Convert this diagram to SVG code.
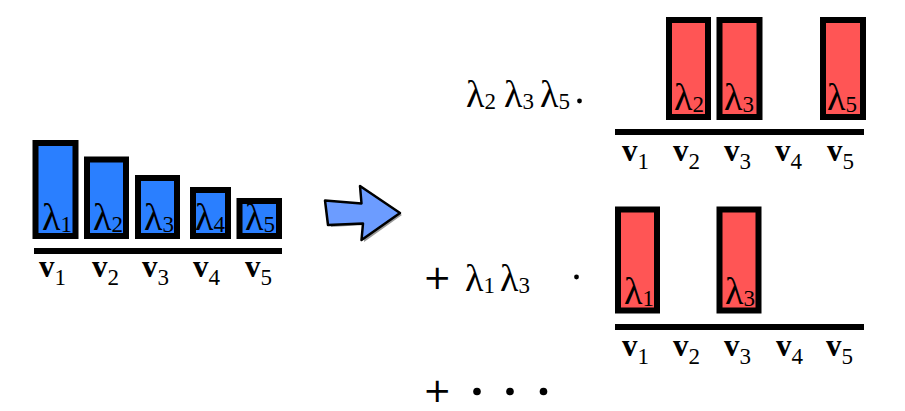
<svg xmlns="http://www.w3.org/2000/svg" width="905" height="411" viewBox="0 0 905 411">
<style>
.blue{fill:#2a7fff;stroke:#000;stroke-width:6}
.red{fill:#ff5555;stroke:#000;stroke-width:6}
.base{stroke:#000;stroke-width:6}
.m{font-family:"Liberation Serif","DejaVu Serif",serif;font-size:38px;fill:#000}
.p{font-family:"DejaVu Sans",sans-serif;font-size:34px;fill:#000}
.b{font-family:"Liberation Serif","DejaVu Serif",serif;font-size:31px;font-weight:bold;fill:#000}
.s{font-size:23px;font-weight:normal}
</style>
<rect width="905" height="411" fill="#fff"/>
<g id="left">
<rect class="blue" x="35.5" y="143" width="40" height="93"/>
<rect class="blue" x="87" y="159.5" width="39" height="76.5"/>
<rect class="blue" x="138" y="178" width="39" height="58"/>
<rect class="blue" x="193" y="190" width="35" height="46"/>
<rect class="blue" x="239.5" y="201" width="39.5" height="35"/>
<line class="base" x1="34" y1="251" x2="282" y2="251"/>
<text class="m" x="42" y="230">λ<tspan class="s" dy="2">1</tspan></text>
<text class="m" x="93" y="230">λ<tspan class="s" dy="2">2</tspan></text>
<text class="m" x="144" y="230">λ<tspan class="s" dy="2">3</tspan></text>
<text class="m" x="195" y="230">λ<tspan class="s" dy="2">4</tspan></text>
<text class="m" x="245" y="230">λ<tspan class="s" dy="2">5</tspan></text>
<text class="b" x="39" y="277">v<tspan class="s" dy="8">1</tspan></text>
<text class="b" x="92" y="277">v<tspan class="s" dy="8">2</tspan></text>
<text class="b" x="142" y="277">v<tspan class="s" dy="8">3</tspan></text>
<text class="b" x="193" y="277">v<tspan class="s" dy="8">4</tspan></text>
<text class="b" x="245" y="277">v<tspan class="s" dy="8">5</tspan></text>
</g>
<g id="arrow">
<polygon points="328,202 364,205 362,188 402,215 364,242 365,225 331,227" fill="#333" opacity="0.5"/>
<polygon points="325,200.5 361.5,203.5 360,186 400,213 361.5,240 363,223.5 328,225" fill="#6c9cff" stroke="#000" stroke-width="2.5" stroke-linejoin="round"/>
</g>
<g id="term1">
<text class="m" x="466" y="107">λ<tspan class="s" dy="2">2</tspan><tspan x="504" dy="-2">λ</tspan><tspan class="s" dy="2">3</tspan><tspan x="540" dy="-2">λ</tspan><tspan class="s" dy="2">5</tspan></text>
<circle cx="579.5" cy="101" r="2.4" fill="#000"/>
<rect class="red" x="669" y="20" width="39" height="97"/>
<rect class="red" x="719.5" y="20" width="40" height="97"/>
<rect class="red" x="823" y="20" width="40" height="97"/>
<line class="base" x1="615" y1="132" x2="864" y2="132"/>
<text class="m" x="674" y="110">λ<tspan class="s" dy="2">2</tspan></text>
<text class="m" x="724" y="110">λ<tspan class="s" dy="2">3</tspan></text>
<text class="m" x="827" y="110">λ<tspan class="s" dy="2">5</tspan></text>
<text class="b" x="622" y="161">v<tspan class="s" dy="8">1</tspan></text>
<text class="b" x="673" y="161">v<tspan class="s" dy="8">2</tspan></text>
<text class="b" x="724" y="161">v<tspan class="s" dy="8">3</tspan></text>
<text class="b" x="775" y="161">v<tspan class="s" dy="8">4</tspan></text>
<text class="b" x="827" y="161">v<tspan class="s" dy="8">5</tspan></text>
</g>
<g id="term2">
<text class="p" x="423" y="289">+</text>
<text class="m" x="465" y="291">λ<tspan class="s" dy="2">1</tspan><tspan x="500" dy="-2">λ</tspan><tspan class="s" dy="2">3</tspan></text>
<circle cx="576.5" cy="277" r="2.4" fill="#000"/>
<rect class="red" x="618" y="209.5" width="39" height="101"/>
<rect class="red" x="719.5" y="209.5" width="39" height="101"/>
<line class="base" x1="615" y1="327" x2="864" y2="327"/>
<text class="m" x="624" y="304">λ<tspan class="s" dy="2">1</tspan></text>
<text class="m" x="725" y="304">λ<tspan class="s" dy="2">3</tspan></text>
<text class="b" x="622" y="356">v<tspan class="s" dy="8">1</tspan></text>
<text class="b" x="673" y="356">v<tspan class="s" dy="8">2</tspan></text>
<text class="b" x="724" y="356">v<tspan class="s" dy="8">3</tspan></text>
<text class="b" x="776" y="356">v<tspan class="s" dy="8">4</tspan></text>
<text class="b" x="826" y="356">v<tspan class="s" dy="8">5</tspan></text>
</g>
<g id="term3">
<text class="p" x="423" y="402">+</text>
<circle cx="477" cy="391.5" r="3.8" fill="#000"/>
<circle cx="510" cy="391.5" r="3.8" fill="#000"/>
<circle cx="543.5" cy="391.5" r="3.8" fill="#000"/>
</g>
</svg>
